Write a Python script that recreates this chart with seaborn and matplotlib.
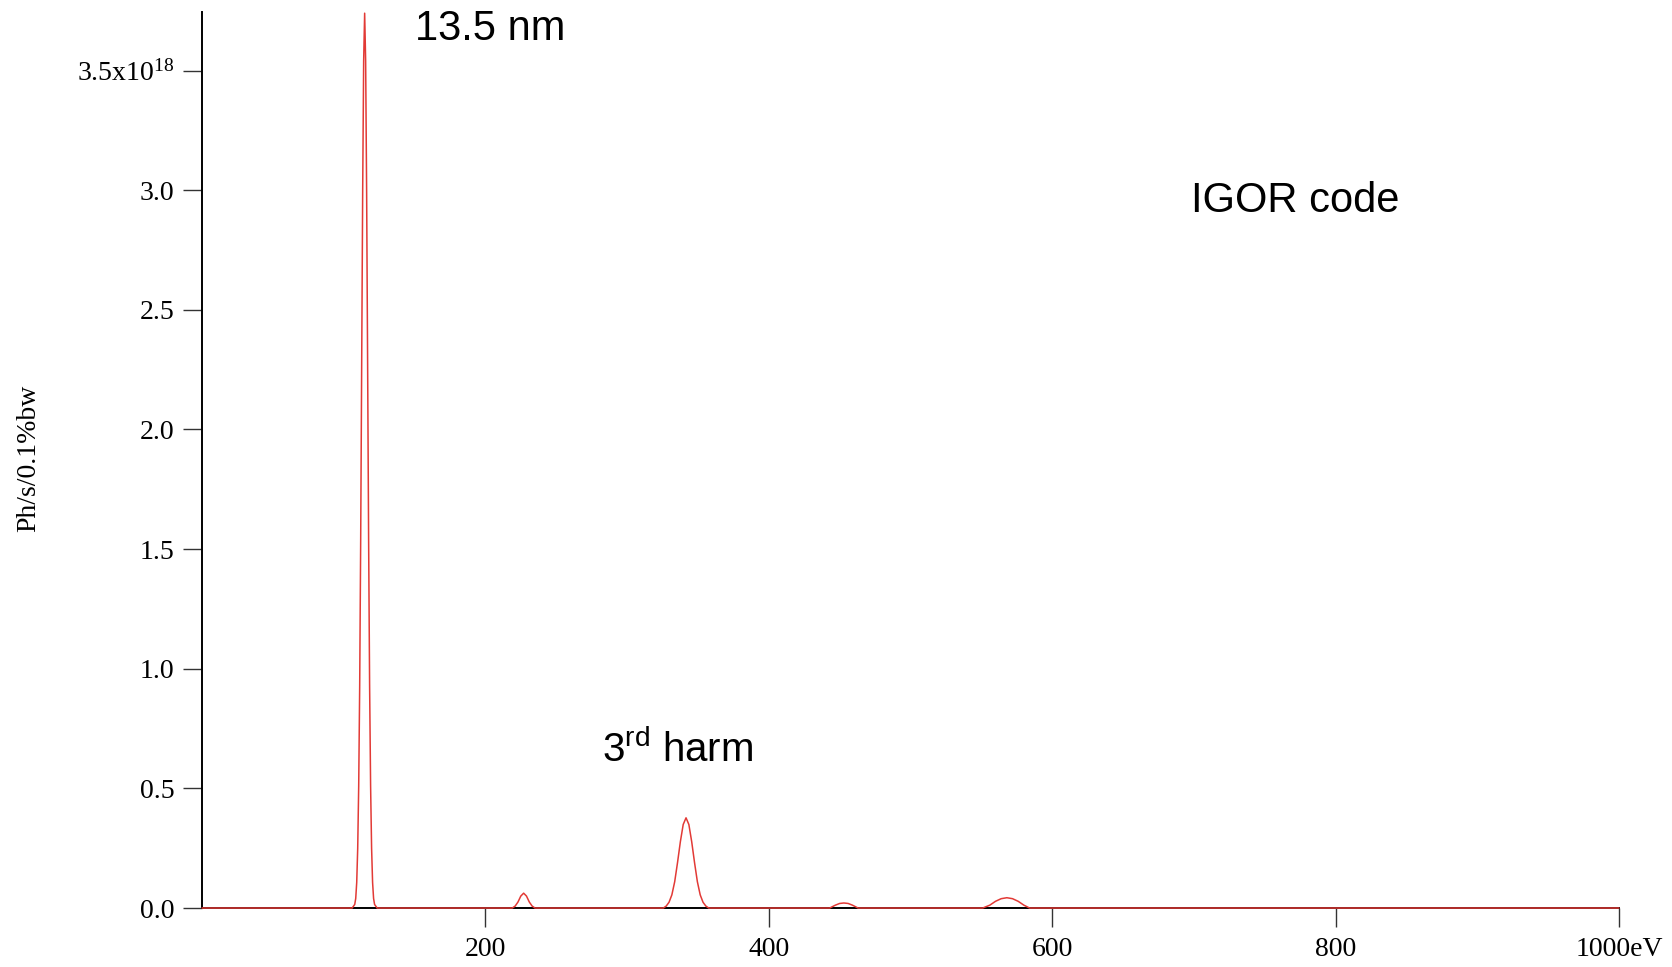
import matplotlib.pyplot as plt
import seaborn as sns
import pandas as pd

# Spectrum (flux in units of 1e18 ph/s/0.1%bw)
energy = [0, 50, 100, 106, 107.8, 108.5, 109.2, 109.9, 110.6, 111.3, 112.0, 112.7,
          113.4, 114.1, 114.8, 115.5, 116.2, 116.9, 117.6, 118.3, 119.0, 119.7,
          120.4, 121.1, 121.8, 123.6, 150, 200, 219, 221, 223, 225, 227, 229, 231,
          233, 235, 260, 300, 325.6, 327.6, 329.6, 331.6, 333.6, 335.6, 337.6,
          339.6, 341.6, 343.6, 345.6, 347.6, 349.6, 351.6, 353.6, 355.6, 357.6,
          400, 443, 447, 450, 453, 456, 459, 463, 500, 551, 556, 560, 564, 568,
          572, 576, 580, 584, 650, 800, 1000]
flux = [0, 0, 0, 0, 0.015, 0.04, 0.107, 0.25, 0.51, 0.93, 1.54, 2.27,
        2.99, 3.54, 3.74, 3.54, 2.99, 2.27, 1.54, 0.93, 0.51, 0.25,
        0.107, 0.04, 0.015, 0, 0, 0, 0, 0.008, 0.025, 0.05, 0.062, 0.05, 0.025,
        0.008, 0, 0, 0, 0, 0.008, 0.024, 0.055, 0.11, 0.19, 0.277,
        0.349, 0.377, 0.349, 0.277, 0.19, 0.11, 0.055, 0.024, 0.008, 0,
        0, 0, 0.012, 0.019, 0.021, 0.019, 0.012, 0, 0, 0, 0.012, 0.028, 0.039, 0.043,
        0.039, 0.028, 0.012, 0, 0, 0, 0]

x_ticks = [200, 400, 600, 800, 1000]
x_labels = ['200', '400', '600', '800', '1000eV']
y_ticks = [0.0, 0.5, 1.0, 1.5, 2.0, 2.5, 3.0, 3.5]
y_labels = ['0.0', '0.5', '1.0', '1.5', '2.0', '2.5', '3.0', r'3.5x10$^{18}$']

df = pd.DataFrame({'energy': energy, 'flux': flux})

sns.set_theme(style='white')
plt.rcParams['font.family'] = ['Liberation Serif', 'DejaVu Serif']
plt.rcParams['mathtext.default'] = 'regular'
plt.rcParams['text.color'] = 'black'
plt.rcParams['axes.labelcolor'] = 'black'

fig = plt.figure(figsize=(16.72, 9.67), dpi=100)
ax = fig.add_axes([0.1208, 0.061, 0.8475, 0.9266])

sns.lineplot(data=df, x='energy', y='flux', color='#e23a36', linewidth=1.1,
             ax=ax, zorder=3, clip_on=False)

ax.set_xlim(0, 1000)
ax.set_ylim(0, 3.745)
ax.set_xticks(x_ticks)
ax.set_xticklabels(x_labels)
ax.set_yticks(y_ticks)
ax.set_yticklabels(y_labels)
ax.tick_params(axis='both', direction='out', length=14, width=1.0, color='#333333',
               labelsize=20, labelcolor='black', bottom=True, left=True)
ax.tick_params(axis='x', pad=7)
ax.tick_params(axis='y', pad=6)

sns.despine(ax=ax)
for side in ['left', 'bottom']:
    ax.spines[side].set_color('black')
    ax.spines[side].set_linewidth(1.4)

ax.set_xlabel('')
ax.set_ylabel('Ph/s/0.1%bw', fontsize=20, color='black')
ax.yaxis.set_label_coords(-0.1136, 0.502)

sans = 'Liberation Sans'
ax.text(0.150, 0.969, '13.5 nm', transform=ax.transAxes, fontsize=30,
        family=sans, va='baseline', ha='left', color='black')
ax.text(0.698, 0.777, 'IGOR code', transform=ax.transAxes, fontsize=30,
        family=sans, va='baseline', ha='left', color='black')
ax.text(0.2823, 0.163, '3$^{rd}$ harm', transform=ax.transAxes, fontsize=29,
        family=sans, va='baseline', ha='left', color='black')

fig.savefig('out.png', dpi=100)
